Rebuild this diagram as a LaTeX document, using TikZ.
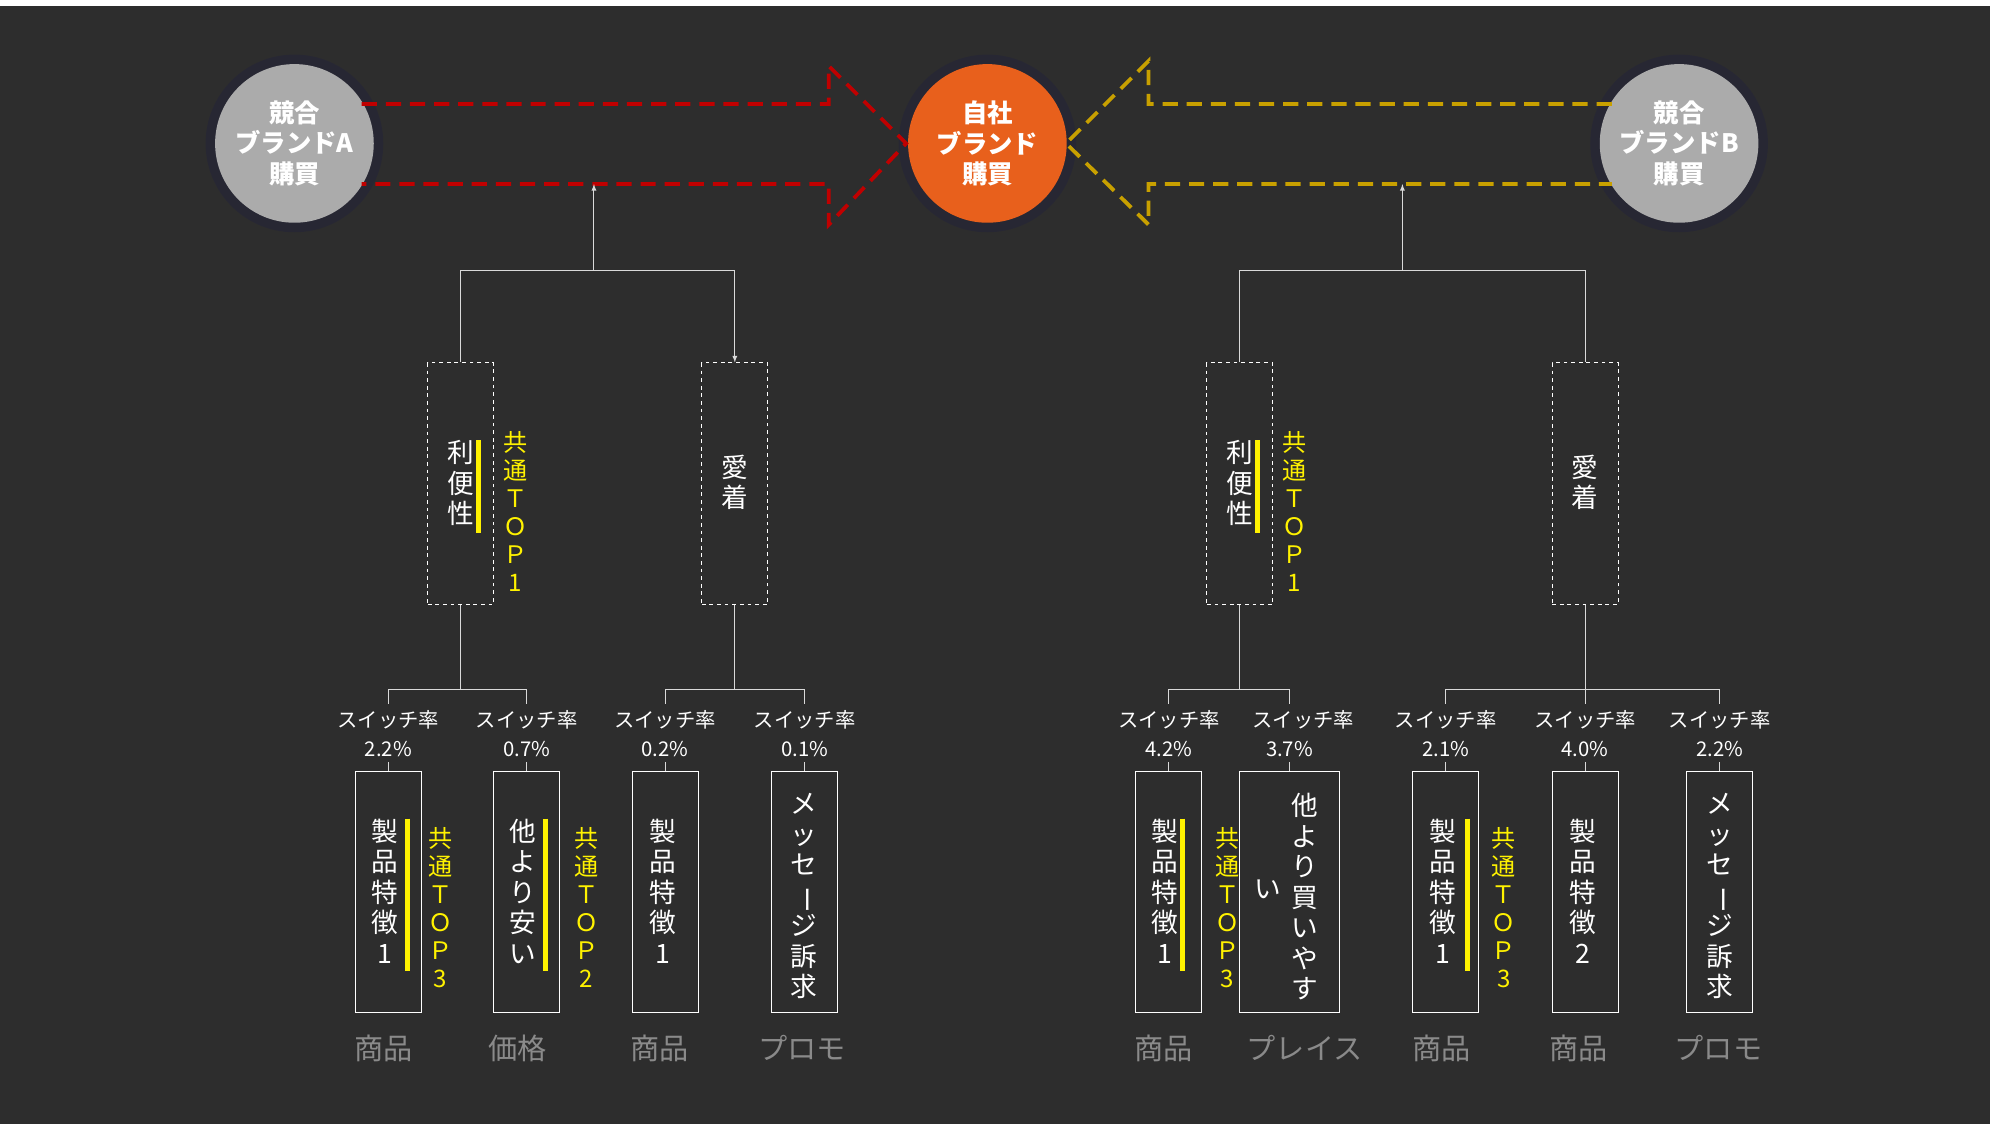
\documentclass[tikz,border=0pt]{standalone}
\usepackage{fontspec}
\setmainfont{Noto Sans CJK JP}
\usetikzlibrary{calc}
\definecolor{bg}{HTML}{2D2D2D}
\definecolor{orng}{HTML}{E8601C}
\definecolor{gry}{HTML}{ABABAB}
\definecolor{redd}{HTML}{C00000}
\definecolor{ylw}{HTML}{C8A000}
\definecolor{cat}{HTML}{8A8A8A}
\newcommand\vbar{\rotatebox[origin=c]{-90}{ー}}
\tikzset{
 circ/.style={circle,minimum size=125pt,inner sep=0pt,text=white,font=\fontsize{20}{24}\selectfont\bfseries,align=center},
 dbox/.style={draw=white,dashed,thick,minimum width=52pt,minimum height=190pt,inner sep=0pt},
 sbox/.style={draw=white,thick,minimum width=52pt,minimum height=190pt,inner sep=0pt},
 vt/.style={text=white,font=\fontsize{21}{24}\selectfont,align=center,anchor=north,inner sep=0pt},
 top/.style={text=yellow,font=\fontsize{19}{22}\selectfont,align=center,anchor=north,inner sep=0pt},
 ybar/.style={yellow,line width=4pt},
 lk/.style={draw=white!85!black,line width=0.8pt},
 sw/.style={text=white,font=\fontsize{16}{19}\selectfont,align=center,inner sep=0pt},
 ct/.style={text=cat,font=\fontsize{23}{26}\selectfont,inner sep=0pt},
 arr/.style={line width=3pt,dash pattern=on 12pt off 7pt},
}
\begin{document}
\begin{tikzpicture}[x=1pt,y=-1pt]
\fill[white] (0,0) rectangle (1568,886);
\fill[bg] (0,5) rectangle (1568,886);
\useasboundingbox (0,0) rectangle (1568,886);
% circles
\foreach \p in {232,778,1323}{\fill[black!60!blue,opacity=0.12] (\p,113) circle (70);}
\node[circ,fill=gry] (ca) at (232,113) {競合\\ブランドA\\購買};
\node[circ,fill=orng] (co) at (778,113) {自社\\ブランド\\購買};
\node[circ,fill=gry] (cb) at (1323,113) {競合\\ブランドB\\購買};
% big arrows
\draw[redd,arr] (285,82) -- (653,82) -- (653,52) -- (714,113) -- (653,177) -- (653,145) -- (285,145);
\draw[ylw,arr] (1270,82) -- (905,82) -- (905,48) -- (840,113) -- (905,177) -- (905,145) -- (1270,145);
\coordinate (ta) at (468,145); \coordinate (tb) at (1105,145);
% mid boxes
\node[dbox] (ma1) at (363,381) {}; \node[dbox] (ma2) at (579,381) {};
\node[dbox] (mb1) at (977,381) {}; \node[dbox] (mb2) at (1249,381) {};
\foreach \n/\x in {a/363,b/977}{
 \node[vt] (rb\n) at (\x,347) {利\\便\\性};
 \draw[ybar] (\x+14,347) -- (\x+14,420);
 \node[top] (rt\n) at (\x+43,340) {共\\通\\Ｔ\\Ｏ\\Ｐ\\1};
}
\node[vt] (aa) at (579,358) {愛\\着};
\node[vt] (ab) at (1249,358) {愛\\着};
% top brackets with arrow
\draw[lk,-latex] (ma1.north) |- (468,213) coordinate (ja) -| (ma2.north);
\draw[lk,-latex] (ja) -- (ta);
\draw[lk] (mb1.north) |- (1105,213) coordinate (jb) -| (mb2.north);
\draw[lk,-latex] (jb) -- (tb);
% bottom boxes
\foreach \n/\x/\w/\p in {1/306/52/2.2\%,2/415/52/0.7\%,3/524/52/0.2\%,4/634/52/0.1\%,5/921/52/4.2\%,6/1016/79/3.7\%,7/1139/52/2.1\%,8/1249/52/4.0\%,9/1355/52/2.2\%}{
 \node[sbox,minimum width=\w pt] (b\n) at (\x,703) {};
 \node[sw] (s\n) at ({\x-(\n==6?-11:0)},567) {スイッチ率};
 \node[sw,font=\fontsize{16}{19}\selectfont\addfontfeature{}] (p\n) at (\x-4+4,590) {\p};
 \draw[lk] (p\n.south) ++(0,4) -- (b\n.north);
}
% lower brackets
\draw[lk] (ma1.south) -- (363,543);
\draw[lk] (s1.north -| b1.north) ++(0,-5) |- (363,543) -| ($(s2.north -| b2.north)+(0,-5)$);
\draw[lk] (ma2.south) -- (579,543);
\draw[lk] ($(s3.north -| b3.north)+(0,-5)$) |- (579,543) -| ($(s4.north -| b4.north)+(0,-5)$);
\draw[lk] (mb1.south) -- (977,543);
\draw[lk] ($(s5.north -| b5.north)+(0,-5)$) |- (977,543) -| ($(s6.north -| b6.north)+(0,-5)$);
\draw[lk] (mb2.south) -- (1249,543);
\draw[lk] ($(s7.north -| b7.north)+(0,-5)$) |- (1249,543) -| ($(s9.north -| b9.north)+(0,-5)$);
\draw[lk] ($(s8.north -| b8.north)+(0,-5)$) -- (1249,543);
% box texts
\node[vt] (t1) at (303,645) {製\\品\\特\\徴\\1};
\draw[ybar] (321,645) -- (321,765);
\node[top] (u1) at (347,652) {共\\通\\Ｔ\\Ｏ\\Ｐ\\3};
\node[vt] (t2) at (412,645) {他\\よ\\り\\安\\い};
\draw[ybar] (430,645) -- (430,765);
\node[top] (u2) at (462,652) {共\\通\\Ｔ\\Ｏ\\Ｐ\\2};
\node[vt] (t3) at (522,645) {製\\品\\特\\徴\\1};
\node[vt] (t4) at (633,625) {メ\\ッ\\セ\\\vbar\\ジ\\訴\\求};
\node[vt] (t5) at (918,645) {製\\品\\特\\徴\\1};
\draw[ybar] (932,645) -- (932,765);
\node[top] (u5) at (967,652) {共\\通\\Ｔ\\Ｏ\\Ｐ\\3};
\node[vt] (t6) at (1028,625) {他\\よ\\り\\買\\い\\や\\す};
\node[vt] (t6b) at (999,693) {い};
\node[vt] (t7) at (1137,645) {製\\品\\特\\徴\\1};
\draw[ybar] (1156,645) -- (1156,765);
\node[top] (u7) at (1185,652) {共\\通\\Ｔ\\Ｏ\\Ｐ\\3};
\node[vt] (t8) at (1247,645) {製\\品\\特\\徴\\2};
\node[vt] (t9) at (1355,625) {メ\\ッ\\セ\\\vbar\\ジ\\訴\\求};
% categories
\foreach \n/\x/\t in {1/302/商品,2/408/価格,3/520/商品,4/632/プロモ,5/917/商品,6/1028/プレイス,7/1136/商品,8/1244/商品,9/1354/プロモ}{
 \node[ct] (k\n) at (\x,826) {\t};
}
\end{tikzpicture}
\end{document}
